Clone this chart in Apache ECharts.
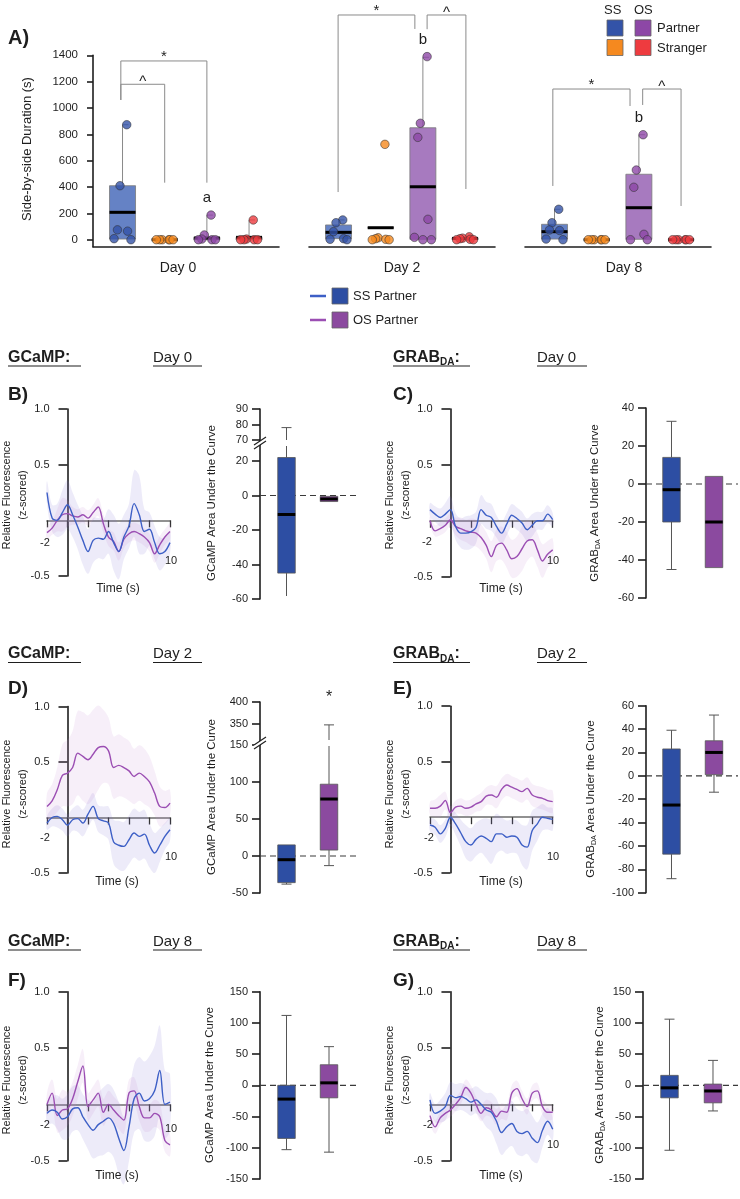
<!DOCTYPE html>
<html><head><meta charset="utf-8">
<script src="https://cdn.jsdelivr.net/npm/echarts@6.0.0/dist/echarts.min.js"></script>
<style>html,body{margin:0;padding:0;background:#fff;}#chart{width:740px;height:1199px;}</style>
</head><body><div id="chart"></div>
<script>
// ---------------- Panel A data ----------------
const A_DAYS = ['Day 0', 'Day 2', 'Day 8'];
const A_GROUPS = ['SS Partner', 'SS Stranger', 'OS Partner', 'OS Stranger'];
const A_YTICKS = [0, 200, 400, 600, 800, 1000, 1200, 1400];
// box stats [min, q1, median, q3, max] for each group
const A_BOX_D0 = [[0, 5, 208, 410, 873], [0, 0, 0, 0, 0], [0, 0, 13, 18, 187], [0, 0, 18, 18, 150]];
const A_BOX_D2 = [[0, 8, 56, 112, 150], [91, 91, 91, 91, 91], [0, 3, 402, 850, 1385], [0, 2, 10, 14, 20]];
const A_BOX_D8 = [[0, 5, 61, 117, 231], [0, 0, 0, 0, 0], [0, 3, 243, 497, 797], [0, 0, 0, 0, 0]];
// individual animals
const A_PTS_D0 = [[873, 410, 75, 65, 8, 0], [0, 0, 0, 0, 0, 0], [187, 36, 5, 0, 0, 0], [150, 5, 0, 0, 0, 0]];
const A_PTS_D2 = [[150, 129, 61, 8, 3, 0], [724, 15, 8, 3, 0, 0], [1390, 884, 777, 155, 18, 0, 0], [22, 12, 8, 3, 0, 0]];
const A_PTS_D8 = [[231, 129, 74, 70, 5, 0], [0, 0, 0, 0, 0, 0], [797, 529, 398, 41, 0, 0], [0, 0, 0, 0, 0, 0]];
// significance brackets: [from group, to group, top, left end, right end]
const A_BR_D0 = [[0.96, 2.0, 1180, 1061, 433], [0.96, 3.0, 1357, 1061, 433]];
const A_BR_D2 = [[0.99, 2.81, 1706, 362, 1600], [3.1, 4.02, 1706, 1598, 385]];
const A_BR_D8 = [[0.96, 2.79, 1144, 408, 1015], [3.09, 4.0, 1144, 1023, 256]];
const A_BR_LBL = [['^', '*'], ['*', '^'], ['*', '^']];
const A_LETTERS = [['', '', 'a', ''], ['', '', 'b', ''], ['', '', 'b', '']];

// ---------------- Traces (z-scored) ----------------
const TIME = [-2, -1.5, -1, -0.5, 0, 0.5, 1, 1.5, 2, 2.5, 3, 3.5, 4, 4.5, 5, 5.5, 6, 6.5, 7, 7.5, 8, 8.5, 9, 9.5, 10];
const B_SS = [0.25, 0.02, 0.0, 0.07, 0.14, 0.05, -0.06, -0.18, -0.28, -0.18, -0.16, -0.17, -0.1, -0.2, -0.28, -0.15, -0.05, 0.15, 0.05, -0.1, -0.08, -0.2, -0.3, -0.28, -0.2];
const B_SS_SEM = [0.1, 0.12, 0.15, 0.2, 0.22, 0.2, 0.2, 0.22, 0.2, 0.2, 0.18, 0.18, 0.2, 0.25, 0.25, 0.2, 0.2, 0.3, 0.35, 0.2, 0.15, 0.15, 0.15, 0.12, 0.1];
const B_OS = [-0.11, -0.07, 0.0, 0.05, 0.06, 0.04, 0.03, 0.05, 0.02, 0.07, 0.12, -0.03, -0.15, -0.19, -0.28, -0.17, -0.12, -0.1, -0.12, -0.15, -0.2, -0.3, -0.22, -0.15, -0.1];
const B_OS_SEM = [0.06, 0.06, 0.1, 0.15, 0.12, 0.08, 0.07, 0.07, 0.07, 0.07, 0.08, 0.08, 0.08, 0.08, 0.08, 0.08, 0.08, 0.08, 0.08, 0.08, 0.08, 0.08, 0.08, 0.07, 0.07];
const C_SS = [0.1, 0.06, 0.03, 0.06, 0.1, -0.05, -0.11, -0.11, -0.1, -0.06, 0.1, 0.05, 0.03, -0.05, -0.11, -0.03, 0.05, 0.02, -0.02, -0.08, -0.04, 0.0, 0.0, 0.06, 0.01];
const C_SS_SEM = [0.06, 0.07, 0.08, 0.1, 0.12, 0.12, 0.13, 0.15, 0.15, 0.14, 0.13, 0.12, 0.12, 0.1, 0.1, 0.1, 0.1, 0.1, 0.1, 0.1, 0.1, 0.08, 0.08, 0.08, 0.06];
const C_OS = [0.0, -0.09, -0.07, -0.04, 0.01, -0.05, -0.07, -0.09, -0.1, -0.11, -0.15, -0.22, -0.32, -0.22, -0.2, -0.26, -0.34, -0.32, -0.25, -0.18, -0.17, -0.26, -0.36, -0.3, -0.26];
const C_OS_SEM = [0.04, 0.05, 0.06, 0.06, 0.06, 0.08, 0.1, 0.1, 0.12, 0.12, 0.12, 0.12, 0.14, 0.14, 0.15, 0.16, 0.17, 0.18, 0.2, 0.18, 0.15, 0.15, 0.15, 0.12, 0.1];
const D_SS = [-0.05, 0.0, 0.01, -0.02, -0.07, -0.02, -0.01, -0.05, 0.03, 0.1, -0.01, -0.03, -0.05, -0.22, -0.25, -0.26, -0.2, -0.14, -0.17, -0.15, -0.25, -0.32, -0.25, -0.17, -0.11];
const D_SS_SEM = [0.06, 0.08, 0.1, 0.1, 0.1, 0.1, 0.12, 0.12, 0.12, 0.12, 0.12, 0.13, 0.15, 0.2, 0.22, 0.22, 0.22, 0.22, 0.22, 0.22, 0.2, 0.18, 0.15, 0.12, 0.1];
const D_OS = [0.1, 0.15, 0.25, 0.38, 0.4, 0.45, 0.58, 0.55, 0.52, 0.57, 0.63, 0.64, 0.6, 0.45, 0.47, 0.45, 0.42, 0.37, 0.4, 0.37, 0.32, 0.22, 0.1, 0.09, 0.13];
const D_OS_SEM = [0.12, 0.15, 0.2, 0.28, 0.3, 0.33, 0.38, 0.4, 0.4, 0.4, 0.38, 0.33, 0.3, 0.28, 0.28, 0.27, 0.27, 0.25, 0.25, 0.25, 0.23, 0.2, 0.18, 0.15, 0.12];
const E_SS = [-0.07, -0.09, -0.15, -0.1, 0.0, -0.06, -0.14, -0.22, -0.25, -0.2, -0.17, -0.19, -0.22, -0.15, -0.15, -0.18, -0.17, -0.18, -0.25, -0.27, -0.12, -0.06, 0.0, -0.01, -0.02];
const E_SS_SEM = [0.06, 0.07, 0.08, 0.08, 0.08, 0.1, 0.12, 0.15, 0.15, 0.15, 0.15, 0.18, 0.2, 0.18, 0.15, 0.15, 0.15, 0.15, 0.18, 0.2, 0.18, 0.15, 0.12, 0.1, 0.1];
const E_OS = [0.08, 0.08, 0.1, 0.15, 0.04, 0.09, 0.1, 0.08, 0.09, 0.12, 0.14, 0.19, 0.2, 0.18, 0.25, 0.29, 0.27, 0.25, 0.23, 0.26, 0.2, 0.18, 0.17, 0.15, 0.14];
const E_OS_SEM = [0.06, 0.08, 0.1, 0.08, 0.06, 0.06, 0.07, 0.07, 0.07, 0.07, 0.08, 0.08, 0.09, 0.1, 0.1, 0.1, 0.1, 0.1, 0.1, 0.1, 0.1, 0.1, 0.1, 0.1, 0.1];
const F_SS = [-0.08, -0.05, -0.07, -0.13, -0.11, -0.04, -0.03, -0.11, -0.18, -0.23, -0.18, -0.15, -0.12, -0.17, -0.3, -0.41, -0.2, 0.05, 0.1, 0.03, 0.05, 0.12, 0.3, 0.0, 0.02];
const F_SS_SEM = [0.1, 0.12, 0.15, 0.18, 0.2, 0.2, 0.2, 0.2, 0.22, 0.25, 0.28, 0.3, 0.3, 0.3, 0.32, 0.3, 0.3, 0.3, 0.32, 0.35, 0.38, 0.4, 0.4, 0.3, 0.25];
const F_OS = [0.0, 0.1, -0.1, -0.05, -0.04, 0.05, 0.2, 0.34, -0.02, 0.04, 0.1, -0.07, 0.0, -0.05, -0.1, -0.14, 0.1, 0.12, -0.02, -0.12, -0.12, -0.08, -0.11, -0.32, -0.36];
const F_OS_SEM = [0.1, 0.12, 0.15, 0.18, 0.15, 0.15, 0.15, 0.15, 0.12, 0.12, 0.12, 0.12, 0.12, 0.12, 0.12, 0.12, 0.12, 0.12, 0.12, 0.12, 0.12, 0.12, 0.12, 0.1, 0.1];
const G_SS = [0.04, -0.08, -0.06, -0.02, 0.08, 0.06, 0.07, 0.05, 0.02, 0.04, 0.0, -0.05, -0.07, -0.15, -0.25, -0.2, -0.17, -0.24, -0.26, -0.24, -0.3, -0.34, -0.23, -0.15, -0.22];
const G_SS_SEM = [0.06, 0.08, 0.1, 0.12, 0.12, 0.12, 0.12, 0.12, 0.12, 0.12, 0.13, 0.15, 0.17, 0.2, 0.2, 0.2, 0.2, 0.2, 0.2, 0.2, 0.2, 0.18, 0.15, 0.12, 0.1];
const G_OS = [-0.1, -0.2, -0.12, -0.08, -0.05, 0.0, 0.06, 0.15, 0.1, 0.0, -0.08, -0.03, -0.05, -0.11, -0.06, -0.07, 0.1, 0.14, 0.05, -0.02, 0.1, 0.12, -0.02, -0.07, -0.07];
const G_OS_SEM = [0.06, 0.06, 0.06, 0.06, 0.06, 0.06, 0.06, 0.07, 0.07, 0.07, 0.07, 0.07, 0.07, 0.07, 0.07, 0.07, 0.07, 0.07, 0.07, 0.07, 0.07, 0.07, 0.07, 0.07, 0.06];
const TRACE_YTICKS = [-0.5, 0.5, 1.0];

// ---------------- Area under the curve [min, q1, median, q3, max] (SS, OS) ----------------
const B_AUC = [[-66, -45, -11, 22, 78], [-3.5, -3.5, -2, -0.5, -0.5]];
const C_AUC = [[-45, -20, -3, 14, 33], [-44, -44, -20, 4, 4]];
const D_AUC = [[-38, -36, -5, 15, 15], [-13, 8, 77, 97, 348]];
const E_AUC = [[-88, -67, -25, 23, 39], [-14, 1, 20, 30, 52]];
const F_AUC = [[-103, -85, -22, 0, 112], [-107, -20, 4, 33, 62]];
const G_AUC = [[-104, -20, -4, 16, 106], [-41, -28, -9, 2, 40]];

// ---------------- styling ----------------
const FF = '"Liberation Sans", Arial, Helvetica, sans-serif';
const INK = '#1e1e1e';
const DOT_COL = ['#3353a8', '#f5891f', '#8d47a6', '#ee3b3f'];
const A_BOX_FILL = ['#6582c5', '#f5a050', '#a77abf', '#f07070'];
const AUC_FILL = ['#2d4ea3', '#8b4a9f'];
const LINE_SS = '#3d5fc6', LINE_OS = '#9b4eb3';
const BAND_SS = 'rgba(125,115,215,0.14)', BAND_OS = 'rgba(195,140,215,0.14)';
const JIT = [0.1, -0.06, -0.12, 0.12, -0.2, 0.2, 0.0];
const A_DAY_SHIFT = [[0, 16, 0, 0], [0, 0, 0, 0], [0, 0, 0, 12]];

const opt = { animation: false, backgroundColor: '#fff', grid: [], xAxis: [], yAxis: [], series: [], graphic: { elements: [] } };
const G = opt.graphic.elements;

function addGrid(g, xa, ya) {
  const gi = opt.grid.length;
  opt.grid.push(Object.assign({ containLabel: false, outerBoundsMode: 'none' }, g));
  xa.gridIndex = gi; ya.gridIndex = gi;
  opt.xAxis.push(xa); opt.yAxis.push(ya);
  return gi;
}
function txt(x, y, s, o, extra) {
  return Object.assign({ type: 'text', x: x, y: y, silent: true, z: 50,
    style: Object.assign({ text: s, fontFamily: FF, fontSize: 12, fill: INK, align: 'left', verticalAlign: 'middle' }, o || {}) }, extra || {});
}
function ln(x1, y1, x2, y2, o) {
  return { type: 'line', silent: true, z: 50, shape: { x1: x1, y1: y1, x2: x2, y2: y2 }, style: Object.assign({ stroke: INK, lineWidth: 1 }, o || {}) };
}
function rct(x, y, w, h, fill) {
  return { type: 'rect', silent: true, z: 50, shape: { x: x, y: y, width: w, height: h }, style: { fill: fill, stroke: '#666', lineWidth: 0.8 } };
}

function makeBox(o) {
  return function (params, api) {
    const i = params.dataIndex;
    const x = api.value(0);
    const mn = api.value(1), q1 = api.value(2), md = api.value(3), q3 = api.value(4), mx = api.value(5);
    const cs = params.coordSys;
    const top = cs.y, bot = cs.y + cs.height;
    const cx = api.coord([x, 0])[0];
    const Y = v => api.coord([x, v])[1];
    const inR = y => y >= top - 0.5 && y <= bot + 0.5;
    const ch = [];
    const pad = 3;
    if (i === 0 && o.zero) {
      const y0 = Y(0);
      if (inR(y0)) ch.push({ type: 'line', shape: { x1: cs.x, y1: y0, x2: cs.x + cs.width, y2: y0 }, style: { stroke: '#3a3a3a', lineWidth: 1.2, lineDash: [6, 4] } });
    }
    function seg(ya, yb) {
      let a = Math.max(ya, yb), b = Math.min(ya, yb);
      if (a < top || b > bot) return;
      if (a > bot + 0.5) a = bot - pad;
      if (b < top - 0.5) b = top + pad;
      if (a - b <= 0.1) return;
      ch.push({ type: 'line', shape: { x1: cx, y1: a, x2: cx, y2: b }, style: { stroke: o.wc, lineWidth: o.ww } });
    }
    function cap(y) {
      if (!inR(y)) return;
      const x1 = o.halfCap ? cx : cx - o.capW / 2, x2 = o.halfCap ? cx + o.capW : cx + o.capW / 2;
      ch.push({ type: 'line', shape: { x1: x1, y1: y, x2: x2, y2: y }, style: { stroke: o.wc, lineWidth: o.ww } });
    }
    seg(Y(q3), Y(mx)); if (mx > q3) cap(Y(mx));
    if (!o.upperOnly) { seg(Y(mn), Y(q1)); if (mn < q1) cap(Y(mn)); }
    const yq3 = Y(q3), yq1 = Y(q1);
    if (!(yq1 < top || yq3 > bot)) {
      const b = Math.max(yq3, top), a = Math.min(yq1, bot);
      ch.push({ type: 'rect', shape: { x: cx - o.bw / 2, y: b, width: o.bw, height: a - b }, style: { fill: o.fills[i], stroke: o.stroke, lineWidth: 0.8 } });
    }
    const ym = Y(md);
    if (inR(ym)) ch.push({ type: 'line', shape: { x1: cx - o.bw / 2, y1: ym, x2: cx + o.bw / 2, y2: ym }, style: { stroke: '#000', lineWidth: o.medW } });
    if (o.letters && o.letters[i]) {
      ch.push({ type: 'text', x: cx, y: Y(mx) - 17, style: { text: o.letters[i], fontFamily: FF, fontSize: 15, fill: INK, align: 'center', verticalAlign: 'middle' } });
    }
    return { type: 'group', children: ch };
  };
}

function bracketRenderer(labels) {
  return function (params, api) {
    const x1 = api.value(0), x2 = api.value(1), yt = api.value(2), yl = api.value(3), yr = api.value(4);
    const p1 = api.coord([x1, yt]), p2 = api.coord([x2, yt]);
    const pl = api.coord([x1, yl]), pr = api.coord([x2, yr]);
    const lab = labels[params.dataIndex];
    return { type: 'group', children: [
      { type: 'polyline', shape: { points: [pl, p1, p2, pr] }, style: { stroke: '#8a8a8a', lineWidth: 1, fill: null } },
      { type: 'text', x: (p1[0] + p2[0]) / 2, y: p1[1] + (lab === '*' ? 3 : 5), style: { text: lab, fontFamily: FF, fontSize: 15, fill: INK, align: 'center', verticalAlign: 'bottom' } }
    ] };
  };
}

function bandRenderer(mean, sem, color) {
  return function (params, api) {
    if (params.dataIndex !== 0) return null;
    const up = TIME.map((t, i) => api.coord([t, mean[i] + sem[i]]));
    const lo = TIME.map((t, i) => api.coord([t, mean[i] - sem[i]])).reverse();
    return { type: 'polygon', shape: { points: up.concat(lo), smooth: 0.35 }, style: { fill: color } };
  };
}

// ---------------- Panel A ----------------
const A_LEFT = [93, 309, 525];
const A_BOXES = [A_BOX_D0, A_BOX_D2, A_BOX_D8];
const A_PTS = [A_PTS_D0, A_PTS_D2, A_PTS_D8];
const A_BR = [A_BR_D0, A_BR_D2, A_BR_D8];
A_BOXES.forEach((boxes, d) => {
  const gi = addGrid({ left: A_LEFT[d], top: 55.3, width: 186, height: 191.4 },
    { type: 'value', min: 0.3, max: 4.71,
      axisLine: { show: true, onZero: false, lineStyle: { color: INK, width: 1.6 } }, axisTick: { show: false }, axisLabel: { show: false }, splitLine: { show: false },
      name: A_DAYS[d], nameLocation: 'middle', nameGap: 14, nameTextStyle: { fontSize: 14, color: INK, fontFamily: FF, padding: A_DAY_SHIFT[d] } },
    { type: 'value', min: -53, max: 1400, show: d === 0,
      axisLine: { show: true, onZero: false, lineStyle: { color: INK, width: 1.6 } },
      axisTick: { show: true, customValues: A_YTICKS, length: 6, lineStyle: { color: INK, width: 1.6 } },
      axisLabel: { customValues: A_YTICKS, formatter: v => String(v), fontSize: 11.5, color: INK, fontFamily: FF, margin: 15 }, splitLine: { show: false } });
  opt.series.push({ type: 'custom', xAxisIndex: gi, yAxisIndex: gi, silent: true, clip: false, z: 2,
    data: boxes.map((b, i) => [i + 1].concat(b)),
    renderItem: makeBox({ bw: 26, fills: A_BOX_FILL, stroke: '#7a7a7a', medW: 3, halfCap: true, capW: 6, upperOnly: true, wc: '#8a8a8a', ww: 1, letters: A_LETTERS[d] }) });
  const dots = [];
  A_PTS[d].forEach((vals, g) => vals.forEach((v, k) => {
    dots.push({ value: [g + 1 + JIT[k % JIT.length], v], itemStyle: { color: DOT_COL[g], borderColor: '#333', borderWidth: 0.7 } });
  }));
  opt.series.push({ type: 'scatter', xAxisIndex: gi, yAxisIndex: gi, silent: true, z: 3, symbolSize: 8.5, data: dots });
  opt.series.push({ type: 'custom', xAxisIndex: gi, yAxisIndex: gi, silent: true, clip: false, z: 1,
    data: A_BR[d], renderItem: bracketRenderer(A_BR_LBL[d]) });
});
G.push(txt(27, 149, 'Side-by-side Duration (s)', { fontSize: 13, align: 'center' }, { rotation: Math.PI / 2 }));

// ---------------- Trace panels ----------------
function tracePanel(p) {
  const gi = addGrid({ left: p.left, top: p.top, width: p.w, height: p.h },
    { type: 'value', min: -2, max: 10, interval: 2,
      axisLine: { show: true, onZero: true, lineStyle: { color: '#6d6d6d', width: 1.6 } },
      axisTick: { show: true, length: 7, lineStyle: { color: '#333', width: 1.3 } }, axisLabel: { show: false }, splitLine: { show: false } },
    { type: 'value', min: -0.5, max: 1.0,
      axisLine: { show: true, onZero: true, lineStyle: { color: INK, width: 1.6 } },
      axisTick: { show: true, customValues: TRACE_YTICKS, length: 9, lineStyle: { color: INK, width: 1.6 } },
      axisLabel: { customValues: TRACE_YTICKS, formatter: v => v.toFixed(1), fontSize: 11, color: INK, fontFamily: FF, margin: -2.5 },
      splitLine: { show: false } });
  opt.series.push({ type: 'custom', xAxisIndex: gi, yAxisIndex: gi, silent: true, clip: false, z: 1, data: TIME.map(t => [t]), renderItem: bandRenderer(p.ss, p.ssSem, BAND_SS) });
  opt.series.push({ type: 'custom', xAxisIndex: gi, yAxisIndex: gi, silent: true, clip: false, z: 1, data: TIME.map(t => [t]), renderItem: bandRenderer(p.os, p.osSem, BAND_OS) });
  opt.series.push({ type: 'line', xAxisIndex: gi, yAxisIndex: gi, silent: true, clip: false, z: 3, smooth: 0.35, showSymbol: false,
    data: TIME.map((t, i) => [t, p.os[i]]), lineStyle: { color: LINE_OS, width: 1.4 } });
  opt.series.push({ type: 'line', xAxisIndex: gi, yAxisIndex: gi, silent: true, clip: false, z: 3, smooth: 0.35, showSymbol: false,
    data: TIME.map((t, i) => [t, p.ss[i]]), lineStyle: { color: LINE_SS, width: 1.4 } });
  G.push(txt(p.m2[0], p.m2[1], '-2', { fontSize: 11, align: 'center' }));
  G.push(txt(p.t10[0], p.t10[1], '10', { fontSize: 11, align: 'center' }));
  G.push(txt(p.time[0], p.time[1], 'Time (s)', { fontSize: 12, align: 'center' }));
  G.push(txt(p.name[0], p.name[1], 'Relative Fluorescence\n(z-scored)', { fontSize: 11, align: 'center', lineHeight: 16 }, { rotation: Math.PI / 2 }));
}
tracePanel({ left: 47, top: 409, w: 123, h: 167, ss: B_SS, ssSem: B_SS_SEM, os: B_OS, osSem: B_OS_SEM, m2: [45, 543], t10: [171, 561], time: [118, 589], name: [15, 495] });
tracePanel({ left: 430, top: 409, w: 122.7, h: 167.7, ss: C_SS, ssSem: C_SS_SEM, os: C_OS, osSem: C_OS_SEM, m2: [427, 542], t10: [553, 561], time: [501, 589], name: [398, 495] });
tracePanel({ left: 47, top: 706.5, w: 123, h: 166.5, ss: D_SS, ssSem: D_SS_SEM, os: D_OS, osSem: D_OS_SEM, m2: [45, 838], t10: [171, 857], time: [117, 882], name: [15, 794] });
tracePanel({ left: 430, top: 706.2, w: 122.7, h: 166.5, ss: E_SS, ssSem: E_SS_SEM, os: E_OS, osSem: E_OS_SEM, m2: [429, 838], t10: [553, 857], time: [501, 882], name: [398, 794] });
tracePanel({ left: 47, top: 991.7, w: 123, h: 169, ss: F_SS, ssSem: F_SS_SEM, os: F_OS, osSem: F_OS_SEM, m2: [45, 1125], t10: [171, 1129], time: [117, 1176], name: [15, 1080] });
tracePanel({ left: 430, top: 991.7, w: 122.7, h: 169, ss: G_SS, ssSem: G_SS_SEM, os: G_OS, osSem: G_OS_SEM, m2: [428, 1125], t10: [553, 1145], time: [501, 1176], name: [398, 1080] });

// ---------------- AUC panels ----------------
function aucPanel(p) {
  p.segs.forEach(s => {
    const gi = addGrid({ left: p.left, top: s.top, width: p.width, height: s.height },
      { type: 'value', min: p.xmin, max: p.xmax, show: false },
      { type: 'value', min: s.min, max: s.max,
        axisLine: { show: true, onZero: false, lineStyle: { color: INK, width: 1.6 } },
        axisTick: { show: true, customValues: s.ticks, length: 8, lineStyle: { color: INK, width: 1.6 } },
        axisLabel: { customValues: s.ticks, fontSize: 11, color: INK, fontFamily: FF, margin: 12 }, splitLine: { show: false } });
    opt.series.push({ type: 'custom', xAxisIndex: gi, yAxisIndex: gi, silent: true, clip: false, z: 2,
      data: p.boxes.map((b, i) => [i + 1].concat(b)),
      renderItem: makeBox({ bw: 17.5, fills: AUC_FILL, stroke: '#555', medW: 3, capW: 10, wc: '#555', ww: 1, zero: true }) });
  });
  if (p.brk) {
    const bx = p.left, by = p.brk;
    G.push({ type: 'polygon', silent: true, z: 49, shape: { points: [[bx - 6, by + 2], [bx + 6, by - 6], [bx + 6, by - 2], [bx - 6, by + 6]] }, style: { fill: '#fff' } });
    G.push(ln(bx - 6, by + 2, bx + 6, by - 6, { lineWidth: 1.2 }));
    G.push(ln(bx - 6, by + 6, bx + 6, by - 2, { lineWidth: 1.2 }));
  }
  G.push(txt(p.title[0], p.title[1], p.grab ? '{t|GRAB}{s|DA}{t| Area Under the Curve}' : 'GCaMP Area Under the Curve',
    { fontSize: 11.5, align: 'center', rich: { t: { fontSize: 11.5, fontFamily: FF, fill: INK, lineHeight: 14 }, s: { fontSize: 7, fontFamily: FF, fill: INK, lineHeight: 4, verticalAlign: 'bottom' } } },
    { rotation: Math.PI / 2 }));
}
const XB = { xmin: 0.3765, xmax: 2.682 };
aucPanel(Object.assign({ left: 260, width: 98, boxes: B_AUC, brk: 443, title: [212, 503],
  segs: [{ top: 409, height: 34, min: 68.06, max: 90, ticks: [70, 80, 90] }, { top: 443, height: 156, min: -60, max: 30.43, ticks: [-60, -40, -20, 0, 20] }] }, XB));
aucPanel({ left: 646, width: 92, xmin: 0.4, xmax: 2.565, boxes: C_AUC, grab: true, title: [595, 503],
  segs: [{ top: 408, height: 190, min: -60, max: 40, ticks: [-60, -40, -20, 0, 20, 40] }] });
aucPanel(Object.assign({ left: 260, width: 98, boxes: D_AUC, brk: 743, title: [212, 797],
  segs: [{ top: 702, height: 41, min: 306.8, max: 400, ticks: [350, 400] }, { top: 743, height: 150, min: -50, max: 152.7, ticks: [-50, 0, 50, 100, 150] }] }, XB));
aucPanel({ left: 646, width: 92, xmin: 0.4, xmax: 2.565, boxes: E_AUC, grab: true, title: [591, 799],
  segs: [{ top: 705.7, height: 187, min: -100, max: 60, ticks: [-100, -80, -60, -40, -20, 0, 20, 40, 60] }] });
aucPanel(Object.assign({ left: 260, width: 98, boxes: F_AUC, title: [210, 1085],
  segs: [{ top: 991.7, height: 187.3, min: -150, max: 150, ticks: [-150, -100, -50, 0, 50, 100, 150] }] }, XB));
aucPanel({ left: 643, width: 95, xmin: 0.391, xmax: 2.575, boxes: G_AUC, grab: true, title: [600, 1085],
  segs: [{ top: 991.7, height: 187.3, min: -150, max: 150, ticks: [-150, -100, -50, 0, 50, 100, 150] }] });
G.push(txt(329, 698, '*', { fontSize: 16, align: 'center' }));

// ---------------- Labels, headers, legends ----------------
G.push(txt(8, 38, 'A)', { fontSize: 20, fontWeight: 'bold' }));
[[395, 'B)', 'C)'], [689, 'D)', 'E)'], [981, 'F)', 'G)']].forEach(r => {
  G.push(txt(8, r[0], r[1], { fontSize: 19, fontWeight: 'bold' }));
  G.push(txt(393, r[0], r[2], { fontSize: 19, fontWeight: 'bold' }));
});
[[357.5, 'Day 0'], [654, 'Day 2'], [941.5, 'Day 8']].forEach(r => {
  const y = r[0], u = y + 8.5;
  G.push(txt(8, y, 'GCaMP:', { fontSize: 16, fontWeight: 'bold' }));
  G.push(ln(8, u, 81, u, { lineWidth: 1.2 }));
  G.push(txt(153, y, r[1], { fontSize: 15 }));
  G.push(ln(153, u, 202, u, { lineWidth: 1.2 }));
  G.push(txt(393, y, '{b|GRAB}{s|DA}{b|:}', { rich: { b: { fontSize: 16, fontWeight: 'bold', fontFamily: FF, fill: INK, lineHeight: 20 }, s: { fontSize: 10, fontWeight: 'bold', fontFamily: FF, fill: INK, lineHeight: 4, verticalAlign: 'bottom' } } }));
  G.push(ln(393, u, 470, u, { lineWidth: 1.2 }));
  G.push(txt(537, y, r[1], { fontSize: 15 }));
  G.push(ln(537, u, 587, u, { lineWidth: 1.2 }));
});
// top-right legend (panel A)
G.push(txt(604, 10, 'SS', { fontSize: 13 }));
G.push(txt(634, 10, 'OS', { fontSize: 13 }));
G.push(rct(607, 20, 16, 16, DOT_COL[0]));
G.push(rct(635, 20, 16, 16, DOT_COL[2]));
G.push(rct(607, 39.5, 16, 16, DOT_COL[1]));
G.push(rct(635, 39.5, 16, 16, DOT_COL[3]));
G.push(txt(657, 28, 'Partner', { fontSize: 13 }));
G.push(txt(657, 48, 'Stranger', { fontSize: 13 }));
// middle legend (traces)
G.push(ln(310, 296, 326, 296, { stroke: LINE_SS, lineWidth: 2.5 }));
G.push(rct(332, 288, 16, 16, AUC_FILL[0]));
G.push(txt(353, 296, 'SS Partner', { fontSize: 13 }));
G.push(ln(310, 320, 326, 320, { stroke: LINE_OS, lineWidth: 2.5 }));
G.push(rct(332, 312, 16, 16, AUC_FILL[1]));
G.push(txt(353, 320, 'OS Partner', { fontSize: 13 }));

const chart = echarts.init(document.getElementById('chart'), null, { renderer: 'canvas', width: 740, height: 1199 });
chart.setOption(opt);
</script></body></html>
